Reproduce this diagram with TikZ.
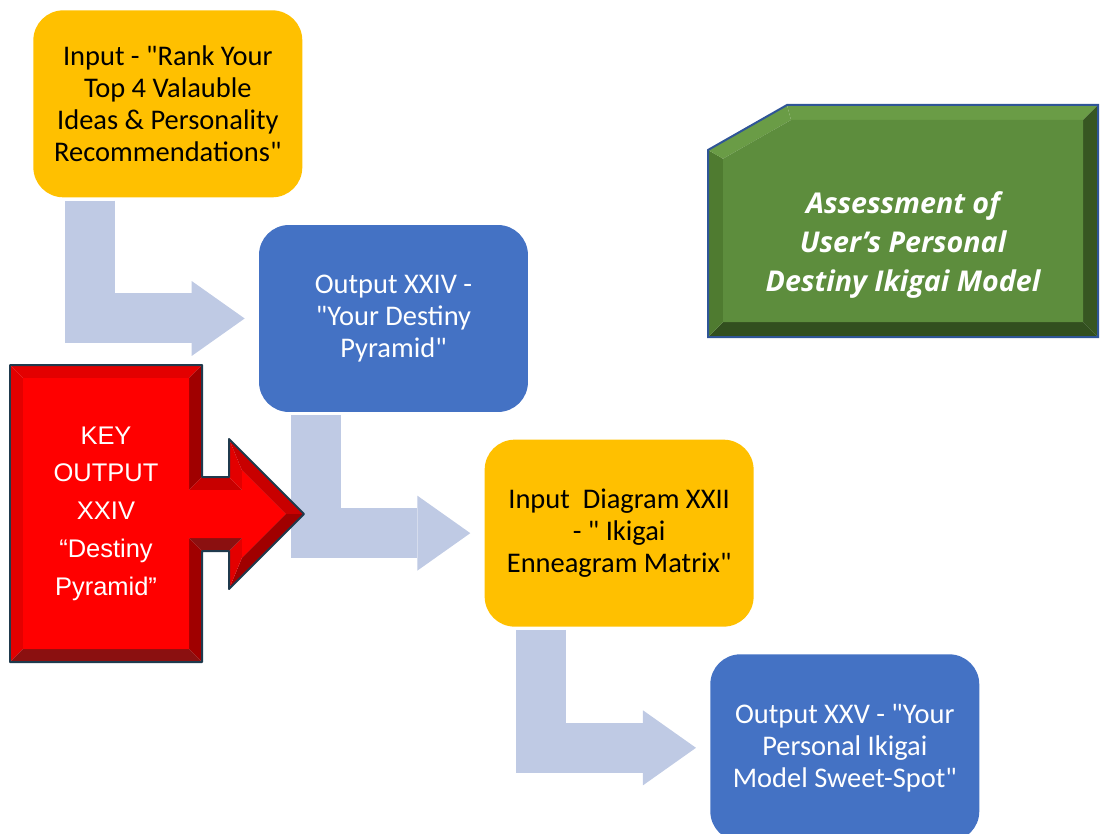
\documentclass[tikz,border=0pt]{standalone}
\usepackage{fontspec}
\setmainfont{Carlito}[Ligatures=TeXOff]
\newfontfamily\arialfont{Liberation Sans}
\newfontfamily\titlefont{Open Sans}
\usetikzlibrary{arrows.meta, calc, positioning}
\newcommand{\qq}{\symbol{34}}
\definecolor{ikyellow}{HTML}{FFC000}
\definecolor{ikblue}{HTML}{4472C4}
\definecolor{ikflow}{HTML}{BFCAE4}
\definecolor{keyface}{HTML}{FF0000}
\definecolor{keylight}{HTML}{E30000}
\definecolor{keymid}{HTML}{C80000}
\definecolor{keydark}{HTML}{A00000}
\definecolor{keyshade}{HTML}{8B1010}
\definecolor{keyline}{HTML}{1F3A4D}
\definecolor{goalface}{HTML}{5D8D3D}
\definecolor{goallight}{HTML}{6A9C46}
\definecolor{goalleft}{HTML}{4F7B30}
\definecolor{goaldark}{HTML}{375622}
\definecolor{goalline}{HTML}{2F5597}
\tikzstyle{stage}=[rounded corners=0.6cm, minimum width=5.38cm, minimum height=3.74cm, inner sep=0pt, align=center, font=\fontsize{16.2}{18.2}\selectfont]
\tikzstyle{inputstage}=[stage, fill=ikyellow, text=black]
\tikzstyle{outputstage}=[stage, fill=ikblue, text=white]
\tikzstyle{flow}=[draw=ikflow, line width=1cm, -{Triangle[length=1.06cm, width=1.5cm, line width=0pt]}]

\begin{document}
\begin{tikzpicture}[x=0.02cm, y=-0.02cm]
  \useasboundingbox (0,0) rectangle (1101,834);
  % the chain of stages
  \node[inputstage, anchor=north west] (in1) at (33,10) {Input - \qq Rank Your\\Top 4 Valauble\\Ideas \& Personality\\Recommendations\qq};
  \node[outputstage] (out1) [below right=0.54cm and -0.88cm of in1] {Output XXIV -\\\qq Your Destiny\\Pyramid\qq};
  \node[inputstage] (in2) [below right=0.54cm and -0.88cm of out1] {Input~ Diagram XXII\\- \qq{} Ikigai\\Enneagram Matrix\qq};
  \node[outputstage] (out2) [below right=0.54cm and -0.88cm of in2] {Output XXV - \qq Your\\Personal Ikigai\\Model Sweet-Spot\qq};
  \draw[flow] ($(in1.south west)+(57,3)$) |- ($(out1.west)+(-14,0)$);
  \draw[flow] ($(out1.south west)+(57,3)$) |- ($(in2.west)+(-14,0)$);
  \draw[flow] ($(in2.south west)+(57,3)$) |- ($(out2.west)+(-14,0)$);
  % key output callout
  \path (10,365) coordinate (k1) (202,365) coordinate (k2) (202,477) coordinate (k3)
        (229,477) coordinate (k4) (229,439) coordinate (k5) (304,514) coordinate (k6)
        (229,589) coordinate (k7) (229,551) coordinate (k8) (202,551) coordinate (k9)
        (202,662) coordinate (k10) (10,662) coordinate (k11);
  \path (23,378) coordinate (j1) (189,378) coordinate (j2) (189,490) coordinate (j3)
        (242,490) coordinate (j4) (242,470.4) coordinate (j5) (285.6,514) coordinate (j6)
        (242,557.6) coordinate (j7) (242,538) coordinate (j8) (189,538) coordinate (j9)
        (189,649) coordinate (j10) (23,649) coordinate (j11);
  \fill[keylight] (k1) -- (k2) -- (j2) -- (j1) -- cycle;
  \fill[keylight] (k11) -- (k1) -- (j1) -- (j11) -- cycle;
  \fill[keydark] (k2) -- (k3) -- (j3) -- (j2) -- cycle;
  \fill[keymid] (k3) -- (k4) -- (j4) -- (j3) -- cycle;
  \fill[keylight] (k4) -- (k5) -- (j5) -- (j4) -- cycle;
  \fill[keymid] (k5) -- (k6) -- (j6) -- (j5) -- cycle;
  \fill[keydark] (k6) -- (k7) -- (j7) -- (j6) -- cycle;
  \fill[keylight] (k7) -- (k8) -- (j8) -- (j7) -- cycle;
  \fill[keyshade] (k8) -- (k9) -- (j9) -- (j8) -- cycle;
  \fill[keydark] (k9) -- (k10) -- (j10) -- (j9) -- cycle;
  \fill[keyshade] (k10) -- (k11) -- (j11) -- (j10) -- cycle;
  \fill[keyface] (j1) -- (j2) -- (j3) -- (j4) -- (j5) -- (j6) -- (j7) -- (j8) -- (j9) -- (j10) -- (j11) -- cycle;
  \draw[keyline, line width=0.04cm, line join=round] (k1) -- (k2) -- (k3) -- (k4) -- (k5) -- (k6) -- (k7) -- (k8) -- (k9) -- (k10) -- (k11) -- cycle;
  \node[align=center, text=white, font=\arialfont\fontsize{14.5}{21.5}\selectfont] (key) at (106,513.5) {KEY\\OUTPUT\\XXIV\\“Destiny\\Pyramid”};
  % assessment panel
  \path (787,105) coordinate (g1) (1098,105) coordinate (g2) (1098,337) coordinate (g3)
        (708,337) coordinate (g4) (708,150) coordinate (g5);
  \path (791,120) coordinate (h1) (1083,120) coordinate (h2) (1083,322) coordinate (h3)
        (723,322) coordinate (h4) (723,158.7) coordinate (h5);
  \fill[goallight] (g1) -- (g2) -- (h2) -- (h1) -- cycle;
  \fill[goaldark] (g2) -- (g3) -- (h3) -- (h2) -- cycle;
  \fill[goaldark!92!black] (g3) -- (g4) -- (h4) -- (h3) -- cycle;
  \fill[goalleft] (g4) -- (g5) -- (h5) -- (h4) -- cycle;
  \fill[goallight] (g5) -- (g1) -- (h1) -- (h5) -- cycle;
  \fill[goalface] (h1) -- (h2) -- (h3) -- (h4) -- (h5) -- cycle;
  \draw[goalline, line width=0.04cm] (g1) -- (g2) -- (g3) -- (g4) -- (g5) -- cycle;
  \node[align=center, text=white, font=\titlefont\bfseries\itshape\fontsize{16.3}{22}\selectfont] (goal) at (903,245) {Assessment of\\User’s Personal\\Destiny Ikigai Model};
\end{tikzpicture}
\end{document}
